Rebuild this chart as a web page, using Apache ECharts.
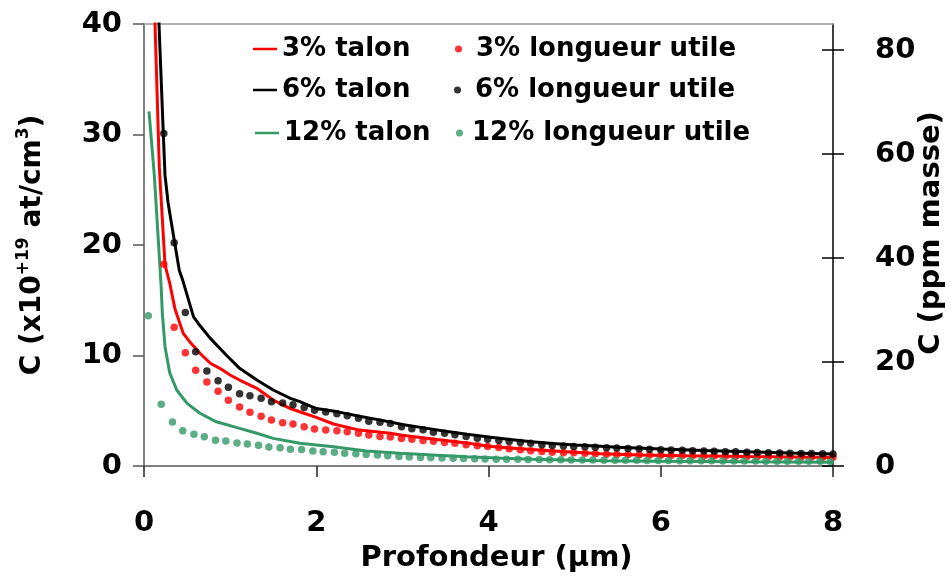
<!DOCTYPE html>
<html><head><meta charset="utf-8">
<script src="https://cdn.jsdelivr.net/npm/echarts@6/dist/echarts.min.js"></script>
<style>html,body{margin:0;padding:0;background:#fff}#c{width:951px;height:578px}</style>
</head><body><div id="c"></div>
<script>
// ---- data ----
const depthUtile = [0.23,0.35,0.48,0.60,0.73,0.86,0.98,1.11,1.23,1.36,1.48,1.61,1.73,1.86,1.98,2.11,2.24,2.36,2.49,2.61,2.74,2.86,2.99,3.11,3.24,3.36,3.49,3.61,3.74,3.87,3.99,4.12,4.24,4.37,4.49,4.62,4.74,4.87,4.99,5.12,5.24,5.37,5.49,5.62,5.75,5.87,6.00,6.12,6.25,6.37,6.50,6.62,6.75,6.87,7.00,7.12,7.25,7.38,7.50,7.63,7.75,7.88,8.00];
const utile3 = [18.25,12.55,10.25,8.66,7.6,6.76,5.94,5.34,4.86,4.5,4.16,3.92,3.8,3.56,3.35,3.26,3.2,3.1,2.96,2.8,2.68,2.62,2.5,2.41,2.3,2.25,2.12,2.05,1.92,1.83,1.76,1.67,1.55,1.47,1.38,1.31,1.25,1.21,1.19,1.15,1.1,1.07,1.05,1.03,1.01,0.99,0.97,0.95,0.94,0.92,0.91,0.9,0.89,0.88,0.87,0.86,0.85,0.84,0.83,0.82,0.81,0.8,0.79];
const utile6 = [30.1,20.2,13.9,10.35,8.6,7.72,7.12,6.54,6.36,6.12,5.82,5.7,5.55,5.3,5.05,4.88,4.72,4.55,4.32,4.05,3.95,3.85,3.55,3.38,3.27,3.05,2.96,2.82,2.67,2.52,2.43,2.3,2.21,2.12,2.05,1.92,1.86,1.82,1.77,1.75,1.7,1.66,1.62,1.58,1.55,1.52,1.48,1.45,1.42,1.39,1.36,1.33,1.3,1.28,1.25,1.23,1.2,1.18,1.16,1.14,1.12,1.1,1.08];
const depthUtile12 = [0.05,0.20,0.33,0.45,0.58,0.70,0.83,0.95,1.08,1.20,1.33,1.45,1.58,1.70,1.83,1.96,2.08,2.21,2.33,2.46,2.58,2.71,2.83,2.96,3.08,3.21,3.33,3.46,3.59,3.71,3.84,3.96,4.09,4.21,4.34,4.46,4.59,4.71,4.84,4.96,5.09,5.21,5.34,5.47,5.59,5.72,5.84,5.97,6.09,6.22,6.34,6.47,6.59,6.72,6.85,6.97,7.10,7.22,7.35,7.47,7.60,7.72,7.85,7.97];
const utile12 = [13.6,5.58,3.98,3.2,2.87,2.65,2.32,2.26,2.08,1.99,1.87,1.72,1.66,1.51,1.5,1.36,1.3,1.24,1.15,1.1,1.05,1.0,0.92,0.85,0.82,0.78,0.75,0.72,0.7,0.68,0.66,0.64,0.62,0.61,0.6,0.59,0.58,0.57,0.56,0.55,0.55,0.54,0.53,0.52,0.52,0.51,0.5,0.5,0.49,0.48,0.48,0.47,0.47,0.46,0.46,0.45,0.45,0.44,0.44,0.43,0.43,0.42,0.42,0.41];

const talon3X = [0.11,0.128,0.178,0.244,0.30,0.36,0.456,0.53,0.65,0.77,0.88,1.0,1.11,1.31,1.5,1.7,1.85,2.0,2.2,2.5,2.86,3.0,3.4,3.75,4.0,4.25,4.5,4.9,5.3,5.75,6.25,7.0,7.5,8.0];
const talon3Y = [44,40,27.0,18.2,16.5,14.2,12.0,11.25,10.2,9.3,8.84,8.24,7.78,7.03,5.97,5.2,4.8,4.4,3.8,3.25,2.96,2.78,2.4,2.08,1.78,1.62,1.5,1.3,1.1,1.0,0.93,0.85,0.82,0.78];
const talon6X = [0.16,0.174,0.224,0.244,0.28,0.356,0.41,0.45,0.575,0.63,0.77,0.96,1.11,1.31,1.5,1.7,1.81,2.0,2.25,2.5,2.75,3.0,3.25,3.5,3.75,4.0,4.25,4.5,4.75,5.0,5.25,5.5,6.0,6.5,7.0,7.5,8.0];
const talon6Y = [44,40,30.1,26.3,23.8,20.2,17.7,16.8,13.5,12.9,11.55,10.0,8.84,7.78,6.88,6.12,5.82,5.2,4.9,4.5,4.15,3.75,3.45,3.15,2.88,2.62,2.4,2.2,2.03,1.9,1.8,1.7,1.53,1.4,1.28,1.17,1.08];
const talon12X = [0.058,0.12,0.198,0.213,0.244,0.30,0.38,0.5,0.65,0.84,1.11,1.31,1.5,1.81,2.2,2.58,2.97,3.4,3.75,4.1,4.52,5.0,5.3,6.0,7.0,8.0];
const talon12Y = [32.1,26.3,16.4,13.8,10.8,8.4,6.88,5.67,4.77,4.0,3.4,2.96,2.5,2.05,1.75,1.36,1.15,0.98,0.84,0.72,0.6,0.52,0.48,0.43,0.38,0.35];

const xTicks = [0,2,4,6,8];
const yTicksLeft = [0,10,20,30,40];
const yTicksRight = [0,20,40,60,80];

const RED = '#ff0000', BLACK = '#000000', GREEN = '#339966';
const FONT = 'DejaVu Sans';
const zip = (xs, ys) => xs.map((x, i) => [x, ys[i]]);

const chart = echarts.init(document.getElementById('c'));
const bold = {fontFamily: FONT, fontWeight: 'bold', color: '#000'};

function lineSeries(name, xs, ys, color) {
  return {name, type: 'line', data: zip(xs, ys), showSymbol: false, symbol: 'none',
    lineStyle: {color, width: 3}, itemStyle: {color}, smooth: false, clip: true, z: 2, animation: false};
}
function dotSeries(name, xs, ys, color) {
  return {name, type: 'scatter', data: zip(xs, ys), symbol: 'circle', symbolSize: 7.5,
    itemStyle: {color}, z: 3, animation: false};
}
function legendLine(name, left, top) {
  return {data: [name], left, top, padding: 0, icon: 'rect', itemWidth: 24, itemHeight: 2.5,
    textStyle: Object.assign({fontSize: 26}, bold), selectedMode: false};
}
function legendDot(name, left, top, pad) {
  return {data: [name], left, top, padding: 0, icon: 'circle', itemWidth: 7, itemHeight: 7,
    textStyle: Object.assign({fontSize: 26, padding: [0, 0, 0, pad]}, bold), selectedMode: false};
}

chart.setOption({
  animation: false,
  backgroundColor: '#fff',
  grid: {left: 144, right: 118, top: 24, bottom: 112, containLabel: false, outerBoundsMode: 'none'},
  legend: [
    legendLine('3% talon', 253, 36),
    legendLine('6% talon', 253, 77),
    legendLine('12% talon', 255, 120),
    legendDot('3% longueur utile', 455, 36, 9),
    legendDot('6% longueur utile', 454, 77, 9),
    legendDot('12% longueur utile', 456, 120, 4)
  ],
  xAxis: [{
    type: 'value', position: 'bottom', min: 0, max: 8, interval: 2,
    axisLine: {show: true, onZero: false, lineStyle: {color: '#555', width: 1.5}},
    axisTick: {show: true, length: 11, lineStyle: {color: '#222', width: 1.5}, customValues: xTicks},
    axisLabel: Object.assign({fontSize: 29, margin: 43, customValues: xTicks}, bold),
    splitLine: {show: false},
    name: 'Profondeur (µm)', nameLocation: 'middle', nameGap: 78,
    nameTextStyle: Object.assign({fontSize: 29, padding: [0, 0, 0, 16]}, bold)
  }, {
    type: 'value', position: 'top', min: 0, max: 8,
    axisLine: {show: true, onZero: false, lineStyle: {color: '#999', width: 1.5}},
    axisTick: {show: false}, axisLabel: {show: false}, splitLine: {show: false}
  }],
  yAxis: [{
    type: 'value', position: 'left', min: 0, max: 40, interval: 10,
    axisLine: {show: true, onZero: false, lineStyle: {color: '#555', width: 1.5}},
    axisTick: {show: true, length: 11, lineStyle: {color: '#555', width: 1.5}, customValues: yTicksLeft},
    axisLabel: Object.assign({fontSize: 29, margin: 22, customValues: yTicksLeft}, bold),
    splitLine: {show: false},
    name: '{n|C (x10}{s|+19}{n| at/cm}{s|3}{n|)}', nameLocation: 'middle', nameGap: 93,
    nameTextStyle: {rich: {
      n: Object.assign({fontSize: 28, lineHeight: 36}, bold),
      s: Object.assign({fontSize: 17, verticalAlign: 'top', lineHeight: 36}, bold)
    }}
  }, {
    type: 'value', position: 'right', min: 0, max: 85,
    axisLine: {show: true, onZero: false, lineStyle: {color: '#000', width: 1.5}},
    axisTick: {show: true, length: 11, lineStyle: {color: '#000', width: 1.5}, customValues: yTicksRight},
    axisLabel: Object.assign({fontSize: 29, margin: 42, customValues: yTicksRight}, bold),
    splitLine: {show: false},
    name: 'C (ppm masse)', nameLocation: 'middle', nameGap: 84, nameMoveOverlap: false,
    nameTextStyle: Object.assign({fontSize: 29, padding: [0, 0, 0, 24]}, bold)
  }, {
    type: 'value', position: 'right', min: 0, max: 85, offset: 0,
    axisLine: {show: false, onZero: false},
    axisTick: {show: true, inside: true, length: 11, lineStyle: {color: '#000', width: 1.5}, customValues: yTicksRight},
    axisLabel: {show: false}, splitLine: {show: false}
  }],
  series: [
    lineSeries('3% talon', talon3X, talon3Y, RED),
    lineSeries('6% talon', talon6X, talon6Y, BLACK),
    lineSeries('12% talon', talon12X, talon12Y, GREEN),
    dotSeries('3% longueur utile', depthUtile, utile3, RED),
    dotSeries('6% longueur utile', depthUtile, utile6, BLACK),
    dotSeries('12% longueur utile', depthUtile12, utile12, GREEN)
  ]
});
</script></body></html>
